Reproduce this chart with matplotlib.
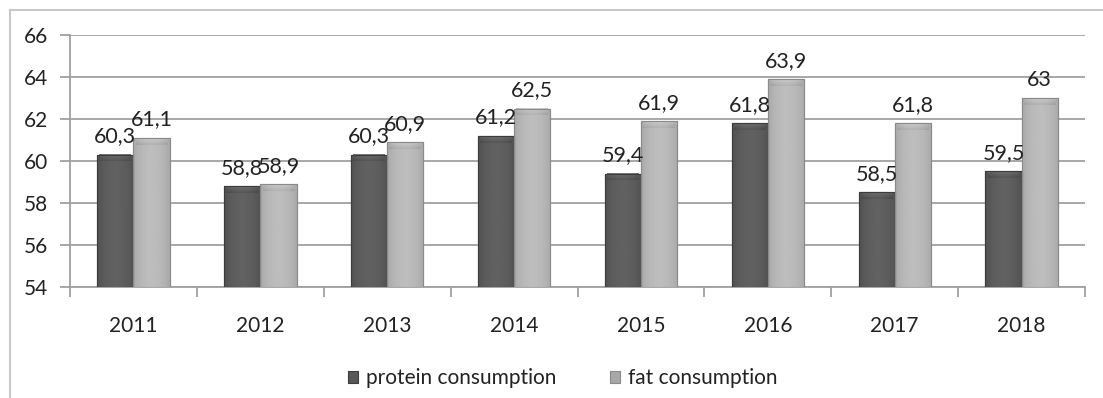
import numpy as np
import matplotlib
matplotlib.use("Agg")
import matplotlib.pyplot as plt
from matplotlib.lines import Line2D

years = ["2011", "2012", "2013", "2014", "2015", "2016", "2017", "2018"]
protein = [60.3, 58.8, 60.3, 61.2, 59.4, 61.8, 58.5, 59.5]
fat = [61.1, 58.9, 60.9, 62.5, 61.9, 63.9, 61.8, 63.0]
series_names = ["protein consumption", "fat consumption"]
y_ticks = [54, 56, 58, 60, 62, 64, 66]

plt.rcParams["font.family"] = ["Lato", "DejaVu Sans"]
TEXT = "#222222"

fig = plt.figure(figsize=(11.03, 3.98), dpi=100)
ax = fig.add_axes([0.0635, 0.279, 0.9202, 0.633])

x = np.arange(len(years))
width = 0.285

# shading profile across each bar (dark edges, lighter middle)
def shade(lo, hi, n=64):
    t = np.linspace(0, 1, n)
    prof = np.sin(np.pi * (0.1 + 0.8 * t)) ** 0.6
    return lo + (hi - lo) * prof

styles = [
    dict(base="#575757", lo=0.26, hi=0.38, edge="#3c3c3c"),
    dict(base="#a8a8a8", lo=0.58, hi=0.74, edge="#8a8a8a"),
]

for k, (vals, st) in enumerate(zip([protein, fat], styles)):
    offs = -width / 2 if k == 0 else width / 2
    bars = ax.bar(x + offs, [v - 54 for v in vals], width, bottom=54,
                  color=st["base"], edgecolor=st["edge"], linewidth=0.8,
                  label=series_names[k], zorder=3)
    prof = shade(st["lo"], st["hi"])
    for b, v in zip(bars, vals):
        x0, w = b.get_x(), b.get_width()
        img = np.tile(prof, (2, 1))
        im = ax.imshow(img, cmap="gray", vmin=0, vmax=1, aspect="auto",
                       extent=[x0, x0 + w, 54, v], zorder=3.5,
                       interpolation="bilinear")
        im.set_clip_path(b)
        # soft bevelled cap at the top of each bar
        rows = np.linspace(1, 0, 8)[:, None]
        cap = np.clip(prof[None, :] + 0.10 * rows - 0.04, 0, 1)
        ax.imshow(cap, cmap="gray", vmin=0, vmax=1, aspect="auto",
                  extent=[x0 + w * 0.06, x0 + w * 0.94, v - 0.32, v - 0.03],
                  zorder=3.6, interpolation="bilinear", alpha=0.9)
        ax.add_patch(plt.Rectangle((x0, 54), w, v - 54, fill=False,
                                   edgecolor=st["edge"], linewidth=0.8, zorder=3.7))
        ax.annotate(f"{v:g}".replace(".", ","), (x0 + w / 2, v),
                    xytext=(0, 6), textcoords="offset points",
                    ha="center", va="bottom", fontsize=15.5, color=TEXT, zorder=5)

ax.set_xlim(-0.5, len(years) - 0.5)
ax.set_ylim(54, 66)
ax.set_yticks(y_ticks)
ax.set_yticklabels([str(t) for t in y_ticks])
ax.yaxis.grid(True, color="#a0a0a0", linewidth=1.3, zorder=0)
ax.set_axisbelow(True)

# category boundary ticks, labels centred on categories
ax.set_xticks(np.arange(-0.5, len(years)), minor=False)
ax.set_xticklabels([""] * (len(years) + 1))
ax.set_xticks(x, minor=True)
ax.set_xticklabels(years, minor=True)
ax.tick_params(axis="x", which="major", length=7, color="#a0a0a0", width=1.3)
ax.tick_params(axis="x", which="minor", length=0, pad=21, labelsize=15, labelcolor=TEXT)
ax.tick_params(axis="y", length=7, color="#a0a0a0", width=1.3, pad=9,
               labelsize=15, labelcolor=TEXT)

for side in ["top", "right"]:
    ax.spines[side].set_visible(False)
for side in ["left", "bottom"]:
    ax.spines[side].set_color("#a0a0a0")
    ax.spines[side].set_linewidth(1.3)

handles, labels = ax.get_legend_handles_labels()
leg = fig.legend(handles, labels, loc="center", bbox_to_anchor=(0.51, 0.05),
                 ncol=2, frameon=False, fontsize=15, handlelength=0.5,
                 handleheight=0.5, handletextpad=0.35, columnspacing=2.6)
for t in leg.get_texts():
    t.set_color(TEXT)

# outer chart frame
fig.add_artist(Line2D([0.0091, 0.0091], [0, 0.975], color="#c8c8c8", linewidth=1.5))
fig.add_artist(Line2D([0.0091, 1], [0.975, 0.975], color="#c8c8c8", linewidth=1.5))

fig.savefig("out.png", dpi=100)
